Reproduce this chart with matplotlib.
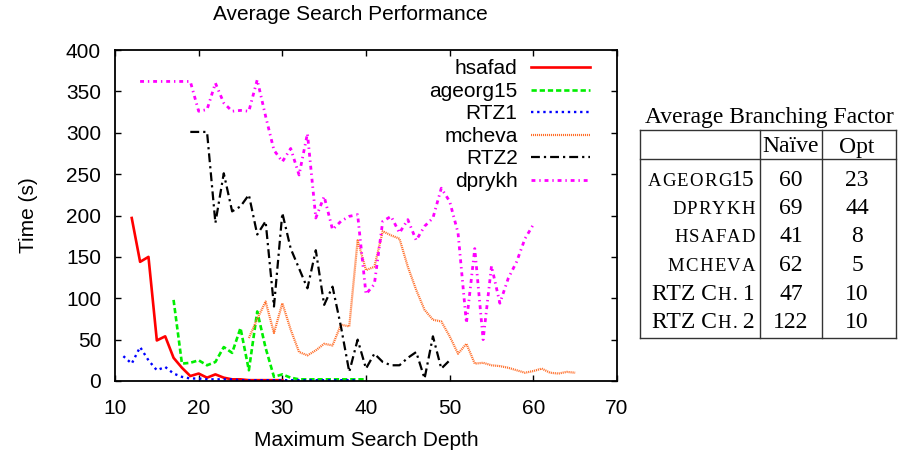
"""
Average search time vs. maximum search depth, with the branching-factor table
drawn to the right of the axes.
"""

import matplotlib
matplotlib.use("Agg")
import matplotlib.pyplot as plt
from matplotlib.lines import Line2D

W, H = 898, 453

# --- data -------------------------------------------------------------------
hsafad_start = 12
hsafad = [197, 144, 150, 49, 54, 28, 16, 6, 9, 4, 8, 4, 2, 2, 1, 1, 1, 1, 1]

ageorg15_start = 17
ageorg15 = [98, 21, 22, 25, 19, 23, 41, 34, 64, 13, 84, 40, 5, 8, 4,
            2, 2, 2, 2, 2, 2, 2, 2, 2]

rtz1_start = 11
rtz1 = [30, 21, 41, 25, 13, 17, 9, 5, 3, 3, 2, 2, 2, 2, 1, 1, 1, 1, 1,
        1, 1, 1, 1, 1, 1, 1, 1, 1, 1]

mcheva_start = 26
mcheva = [52, 75, 96, 58, 94, 62, 35, 31, 37, 45, 43, 68, 66, 170, 134,
          138, 181, 176, 172, 138, 110, 86, 74, 72, 54, 33, 45, 21, 22, 19,
          18, 16, 13, 10, 12, 15, 10, 9, 11, 10]

rtz2_start = 19
rtz2 = [301, 301, 301, 191, 251, 205, 211, 225, 177, 193, 90, 203, 160, 136,
        112, 158, 92, 114, 66, 11, 50, 15, 33, 23, 19, 19, 28, 35, 3, 54,
        15, 25]

dprykh_start = 13
dprykh = [362, 362, 362, 362, 362, 362, 362, 326, 328, 360, 336, 326, 327,
          326, 364, 320, 279, 265, 281, 249, 299, 197, 223, 183, 193, 199,
          201, 105, 117, 193, 199, 179, 195, 170, 187, 197, 233, 217, 179,
          70, 160, 50, 139, 94, 124, 144, 172, 189]

series_names = ["hsafad", "ageorg15", "RTZ1", "mcheva", "RTZ2", "dprykh"]

tbl_names = [
    [("AGEORG", True), ("15", False)],
    [("DPRYKH", True)],
    [("HSAFAD", True)],
    [("MCHEVA", True)],
    [("RTZ C", False), ("H.", True), (" 1", False)],
    [("RTZ C", False), ("H.", True), (" 2", False)],
]
tbl_naive = [60, 69, 41, 62, 47, 122]
tbl_opt = [23, 44, 8, 5, 10, 10]

SERIF = ["Liberation Serif", "DejaVu Serif"]
BIG, SMALL, TRACK = 17, 13.5, 1.2


def fx(px):
    return px / W


def fy(py):
    return 1 - py / H


def draw_name(fig, renderer, x_right, y_base, parts):
    # right-aligned fake small caps: lay pieces out from right to left
    x = x_right
    for txt, is_small in reversed(parts):
        if is_small:
            for ch in reversed(txt):
                t = fig.text(fx(x), fy(y_base), ch, family=SERIF,
                             fontsize=SMALL, ha="right", va="baseline")
                x -= t.get_window_extent(renderer).width + TRACK
        else:
            t = fig.text(fx(x), fy(y_base), txt, family=SERIF,
                         fontsize=BIG, ha="right", va="baseline")
            x -= t.get_window_extent(renderer).width


def main():
    plt.rcParams["font.family"] = ["Liberation Sans", "DejaVu Sans"]

    fig = plt.figure(figsize=(W / 100, H / 100), dpi=100)
    ax = fig.add_axes([fx(115), fy(381), fx(617) - fx(115), fy(50) - fy(381)])

    styles = [
        dict(color="#ff0000", lw=1.9, ls="-"),
        dict(color="#00ee00", lw=1.9, dashes=(2.0, 1.1)),
        dict(color="#0000ff", lw=1.7, dashes=(1.0, 1.6)),
        dict(color="#ff6f2a", lw=1.6, dashes=(0.5, 0.4)),
        dict(color="#000000", lw=1.6, dashes=(4.0, 1.8, 1.0, 1.8)),
        dict(color="#ff00ff", lw=2.0, dashes=(1.4, 1.4, 0.5, 1.4)),
    ]
    all_series = [
        (hsafad_start, hsafad), (ageorg15_start, ageorg15),
        (rtz1_start, rtz1), (mcheva_start, mcheva),
        (rtz2_start, rtz2), (dprykh_start, dprykh),
    ]
    for name, (start, vals), st in zip(series_names, all_series, styles):
        xs = list(range(start, start + len(vals)))
        ax.plot(xs, vals, label=name, **st)

    ax.set_xlim(10, 70)
    ax.set_ylim(0, 400)
    ax.set_xticks(range(10, 71, 10))
    ax.set_yticks(range(0, 401, 50))
    ax.tick_params(direction="in", top=True, right=True, length=4.5,
                   width=1.0, labelsize=15)
    ax.tick_params(axis="x", pad=13)
    ax.tick_params(axis="y", pad=10)
    for sp in ax.spines.values():
        sp.set_linewidth(1.3)

    ax.set_xlabel("Maximum Search Depth", fontsize=15, labelpad=9)
    ax.set_ylabel("Time (s)", fontsize=15, labelpad=20)
    fig.text(fx(350), fy(15), "Average Search Performance", fontsize=15,
             ha="center", va="center")

    ax.legend(loc="upper right", bbox_to_anchor=(0.946, 0.972),
              markerfirst=False, frameon=False, fontsize=15,
              handlelength=2.85, handletextpad=0.62, labelspacing=0.17,
              borderpad=0, borderaxespad=0)

    # --- branching factor table ------------------------------------------
    left, c1, c2, right = 640, 760, 822, 896
    top, head, bottom = 130, 159, 338
    lc = "#333333"
    for x0, y0, x1, y1 in [(left, top, right, top), (left, head, right, head),
                           (left, bottom, right, bottom),
                           (left, top, left, bottom), (c1, top, c1, bottom),
                           (c2, top, c2, bottom), (right, top, right, bottom)]:
        fig.add_artist(Line2D([fx(x0), fx(x1)], [fy(y0), fy(y1)],
                              color=lc, lw=1.0))

    fig.text(fx(769), fy(123), "Average Branching Factor", family=SERIF,
             fontsize=BIG, ha="center", va="baseline")
    fig.text(fx((c1 + c2) / 2), fy(152.5), "Naïve", family=SERIF,
             fontsize=BIG, ha="center", va="baseline")
    fig.text(fx((c2 + right) / 2 - 2), fy(152.5), "Opt", family=SERIF,
             fontsize=BIG, ha="center", va="baseline")

    renderer = fig.canvas.get_renderer()
    row_base = [185.5, 214, 242.5, 271, 299.5, 328]
    for parts, nv, op, yb in zip(tbl_names, tbl_naive, tbl_opt, row_base):
        draw_name(fig, renderer, 755, yb, parts)
        fig.text(fx((c1 + c2) / 2), fy(yb), str(nv), family=SERIF,
                 fontsize=BIG, ha="center", va="baseline")
        fig.text(fx((c2 + right) / 2 - 2), fy(yb), str(op), family=SERIF,
                 fontsize=BIG, ha="center", va="baseline")

    fig.savefig("out.png", dpi=100)


if __name__ == "__main__":
    main()
